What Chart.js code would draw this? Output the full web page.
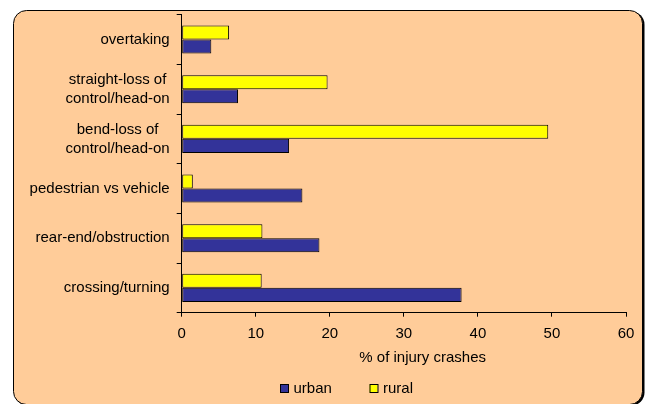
<!DOCTYPE html>
<html>
<head>
<meta charset="utf-8">
<script src="https://cdn.jsdelivr.net/npm/chart.js@4"></script>
<style>
  html, body { margin: 0; padding: 0; background: #fff; }
  #wrap { width: 651px; height: 404px; }
</style>
</head>
<body>
<div id="wrap"><canvas id="crashChart" width="651" height="404"></canvas></div>
<script>
// chart data
const categories = [
  ["overtaking"],
  ["straight-loss of", "control/head-on"],
  ["bend-loss of", "control/head-on"],
  ["pedestrian vs vehicle"],
  ["rear-end/obstruction"],
  ["crossing/turning"]
];
const urbanValues = [4.0, 7.6, 14.5, 16.3, 18.6, 37.8];
const ruralValues = [6.4, 19.7, 49.5, 1.5, 10.9, 10.8];
const xTicks = [0, 10, 20, 30, 40, 50, 60];
const axisTitle = "% of injury crashes";
const legendNames = ["urban", "rural"];

const FONT = "'Liberation Sans', Arial, sans-serif";
const PEACH = "#FFCC99";
const URBAN = "#333399";
const RURAL = "#FFFF00";

// rounded frame behind everything
const framePlugin = {
  id: "frame",
  beforeDraw(chart) {
    const ctx = chart.ctx;
    ctx.save();
    ctx.fillStyle = "#fff";
    ctx.fillRect(0, 0, chart.width, chart.height);
    function rr(x, y, w, h, r) {
      ctx.beginPath();
      ctx.moveTo(x + r, y);
      ctx.lineTo(x + w - r, y);
      ctx.arcTo(x + w, y, x + w, y + r, r);
      ctx.lineTo(x + w, y + h - r);
      ctx.arcTo(x + w, y + h, x + w - r, y + h, r);
      ctx.lineTo(x + r, y + h);
      ctx.arcTo(x, y + h, x, y + h - r, r);
      ctx.lineTo(x, y + r);
      ctx.arcTo(x, y, x + r, y, r);
      ctx.closePath();
    }
    // shadow
    rr(14.5, 11.5, 630, 394, 13);
    ctx.fillStyle = "#000";
    ctx.fill();
    rr(13.5, 10.5, 629, 394, 13);
    ctx.fillStyle = PEACH;
    ctx.fill();
    ctx.strokeStyle = "#000";
    ctx.lineWidth = 1;
    ctx.stroke();
    ctx.restore();
  }
};

// category labels, right aligned block with centred lines, plus axis title and legend
const textPlugin = {
  id: "texts",
  afterDraw(chart) {
    const ctx = chart.ctx;
    const y = chart.scales.y;
    const area = chart.chartArea;
    ctx.save();
    ctx.font = "15px " + FONT;
    ctx.fillStyle = "#000";
    ctx.textBaseline = "middle";
    ctx.textAlign = "center";
    categories.forEach((lines, i) => {
      const cy = y.getPixelForValue(i);
      const w = Math.max(...lines.map(l => ctx.measureText(l).width));
      const cx = y.right - 12 - w / 2;
      lines.forEach((l, j) => {
        ctx.fillText(l, cx, cy + (j - (lines.length - 1) / 2) * 19);
      });
    });

    ctx.fillText(axisTitle, area.left + 241, 358);

    // legend
    const items = [
      { name: legendNames[0], color: URBAN, x: 280 },
      { name: legendNames[1], color: RURAL, x: 369.5 }
    ];
    ctx.textAlign = "left";
    items.forEach(it => {
      ctx.fillStyle = it.color;
      ctx.fillRect(it.x, 384.5, 8, 8);
      ctx.strokeStyle = "#000";
      ctx.lineWidth = 1;
      ctx.strokeRect(it.x + 0.5, 384.5, 8, 8);
      ctx.fillStyle = "#000";
      ctx.fillText(it.name, it.x + 13.5, 389);
    });
    ctx.restore();
  }
};

const ctx = document.getElementById("crashChart").getContext("2d");
new Chart(ctx, {
  type: "bar",
  data: {
    labels: categories,
    datasets: [
      {
        label: legendNames[1],
        data: ruralValues,
        backgroundColor: RURAL,
        borderColor: "#000",
        borderWidth: 1,
        borderSkipped: false,
        categoryPercentage: 0.565,
        barPercentage: 1
      },
      {
        label: legendNames[0],
        data: urbanValues,
        backgroundColor: URBAN,
        borderColor: "#000",
        borderWidth: 1,
        borderSkipped: false,
        categoryPercentage: 0.565,
        barPercentage: 1
      }
    ]
  },
  options: {
    responsive: false,
    animation: false,
    indexAxis: "y",
    layout: { padding: { top: 14.7, right: 25, left: 0, bottom: 0 } },
    plugins: {
      legend: { display: false },
      tooltip: { enabled: false }
    },
    scales: {
      x: {
        min: xTicks[0],
        max: xTicks[xTicks.length - 1],
        afterBuildTicks: s => { s.ticks = xTicks.map(v => ({ value: v })); },
        ticks: { color: "#000", font: { size: 15, family: FONT }, padding: 8, maxRotation: 0 },
        grid: { drawOnChartArea: false, drawTicks: true, tickLength: 4, color: "#000" },
        border: { color: "#000" },
        afterFit: s => { s.height = 91.3; }
      },
      y: {
        ticks: { display: false },
        grid: { drawOnChartArea: false, drawTicks: true, tickLength: 5, color: "#000" },
        border: { color: "#000" },
        afterFit: s => { s.width = 181.7; }
      }
    }
  },
  plugins: [framePlugin, textPlugin]
});
</script>
</body>
</html>
